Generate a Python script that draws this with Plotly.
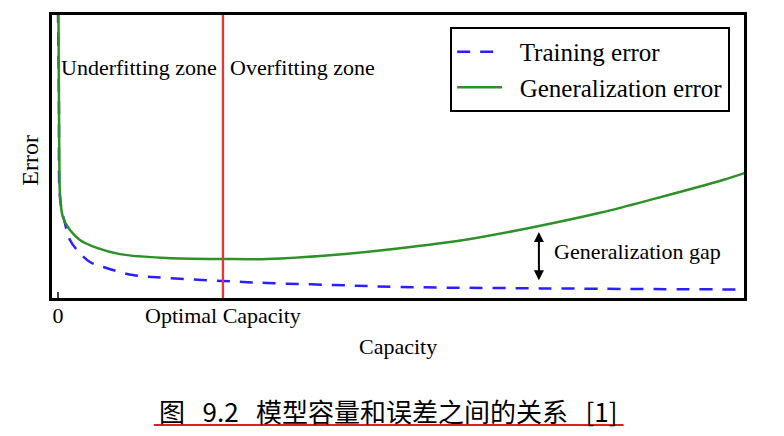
import plotly.graph_objects as go

# ---- data ----
capacity_gen = [0.003, 0.006, 0.009, 0.012, 0.030, 0.073, 0.133, 0.236, 0.376, 0.661,
                1.0, 1.267, 1.667, 2.073, 2.479, 2.879, 3.285, 3.630, 4.030, 4.164]
generalization_error = [1.02, 0.70, 0.452, 0.371, 0.286, 0.240, 0.205, 0.177, 0.155, 0.141,
                        0.138, 0.138, 0.152, 0.176, 0.207, 0.250, 0.301, 0.353, 0.417, 0.442]

capacity_train = [0.0, 0.006, 0.009, 0.018, 0.042, 0.073, 0.115, 0.194, 0.273, 0.455, 0.661,
                  1.0, 1.267, 1.667, 2.073, 2.921, 4.164]
training_error = [1.02, 0.70, 0.382, 0.329, 0.265, 0.205, 0.170, 0.127, 0.110, 0.081, 0.071,
                  0.060, 0.053, 0.046, 0.039, 0.034, 0.030]

optimal_capacity = 1.0
tick_values = [0, optimal_capacity]
tick_labels = ["0", "Optimal Capacity"]

gap_x = 2.915
gap_top = 0.233
gap_bottom = 0.057

zone_labels = ["Underfitting zone", "Overfitting zone"]
zone_x = [0.494, 1.482]
zone_y = 0.816

series_names = ["Training error", "Generalization error"]

caption = "图\u00a0\u00a0\u00a09.2\u00a0\u00a0\u00a0模型容量和误差之间的关系\u00a0\u00a0\u00a0[1]"

SERIF = "Liberation Serif, Times New Roman, serif"
PAD = "\u00a0\u00a0"

fig = go.Figure()

fig.add_trace(go.Scatter(
    x=capacity_train, y=training_error, mode="lines", name=PAD + series_names[0],
    line=dict(color="#2a1fff", width=2.5, dash="13px,10px", shape="spline", smoothing=1.0),
))
fig.add_trace(go.Scatter(
    x=capacity_gen, y=generalization_error, mode="lines", name=PAD + series_names[1],
    line=dict(color="#2e9128", width=2.5, shape="spline", smoothing=1.0),
))

# optimal capacity line
fig.add_shape(type="line", xref="x", yref="paper", x0=optimal_capacity, x1=optimal_capacity,
              y0=0, y1=1, line=dict(color="#ee3333", width=2.3), layer="above")

# generalization gap arrow
fig.add_annotation(x=gap_x, y=gap_top, ax=gap_x, ay=gap_bottom, xref="x", yref="y",
                   axref="x", ayref="y", text="", showarrow=True, arrowhead=2,
                   arrowside="end+start", arrowwidth=2, arrowsize=1, arrowcolor="black")
fig.add_annotation(x=gap_x + 0.08, y=(gap_top + gap_bottom) / 2 + 0.018, xref="x", yref="y",
                   text="Generalization gap", showarrow=False, xanchor="left", yanchor="middle",
                   font=dict(family=SERIF, size=22, color="black"))

for lbl, zx in zip(zone_labels, zone_x):
    fig.add_annotation(x=zx, y=zone_y, xref="x", yref="y", text=lbl, showarrow=False,
                       xanchor="center", yanchor="middle",
                       font=dict(family=SERIF, size=22, color="black"))

# axis titles
fig.add_annotation(x=0.5, y=-0.173, xref="paper", yref="paper", text="Capacity",
                   xanchor="center", yanchor="middle",
                   showarrow=False, font=dict(family=SERIF, size=22, color="black"))
fig.add_annotation(x=-0.032, y=0.488, xref="paper", yref="paper", text="Error",
                   xanchor="center", yanchor="middle",
                   textangle=-90, showarrow=False, font=dict(family=SERIF, size=24, color="black"))

# caption
fig.add_annotation(x=0.486, y=-0.396, xref="paper", yref="paper", text=caption,
                   xanchor="center", yanchor="middle",
                   showarrow=False, font=dict(family="Noto Sans CJK SC", size=26, color="black"))
fig.add_shape(type="line", xref="paper", yref="paper", x0=0.147, x1=0.826, y0=-0.449, y1=-0.449,
              line=dict(color="#e02020", width=2))

fig.update_layout(
    width=784, height=436, autosize=False,
    margin=dict(l=52, r=40, t=15, b=138),
    paper_bgcolor="white", plot_bgcolor="white",
    showlegend=True,
    legend=dict(x=0.98, y=0.958, xanchor="right", yanchor="top",
                bordercolor="black", borderwidth=2, bgcolor="white",
                font=dict(family=SERIF, size=25, color="black"),
                itemwidth=45, tracegroupgap=0),
    xaxis=dict(range=[-0.036, 4.158], showgrid=False, zeroline=False,
               showline=True, mirror=True, linecolor="black", linewidth=2.5,
               tickvals=tick_values, ticktext=tick_labels, ticks="inside", ticklen=6,
               tickcolor="#444", tickwidth=1.5, ticklabelstandoff=-4,
               tickfont=dict(family=SERIF, size=22, color="black")),
    yaxis=dict(range=[0, 1.0], showgrid=False, zeroline=False,
               showline=True, mirror=True, linecolor="black", linewidth=2.5,
               showticklabels=False, ticks=""),
)

fig.write_html("out.html")
